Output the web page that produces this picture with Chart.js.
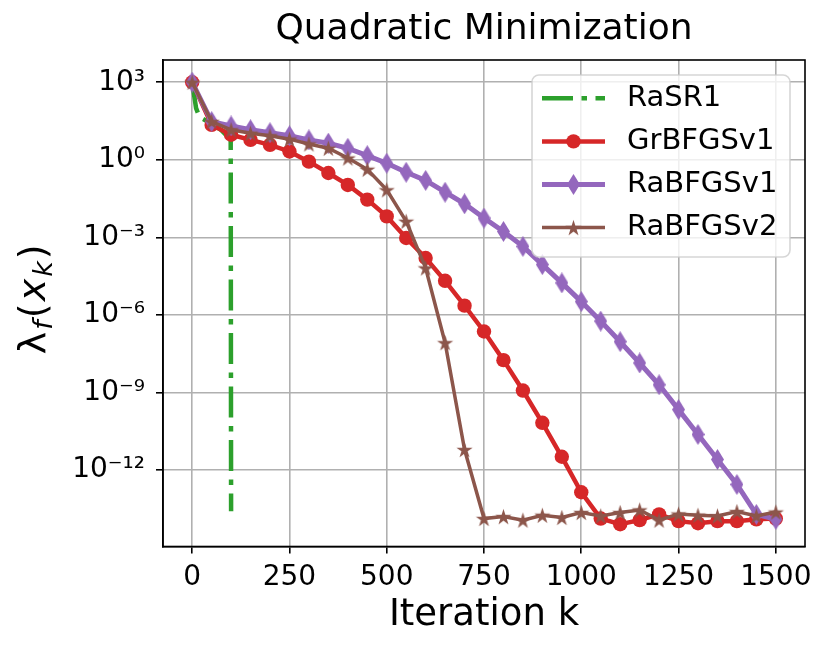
<!DOCTYPE html>
<html>
<head>
<meta charset="utf-8">
<script src="https://cdn.jsdelivr.net/npm/chart.js@4.4.1/dist/chart.umd.min.js"></script>
<style>
  html, body { margin: 0; padding: 0; background: #fff; }
  canvas { display: block; }
</style>
</head>
<body>
<canvas id="convChart" width="831" height="655"></canvas>
<script>
// iteration counter (markers every 50 iterations)
const iterations = [0, 50, 100, 150, 200, 250, 300, 350, 400, 450, 500, 550, 600, 650, 700, 750,
                    800, 850, 900, 950, 1000, 1050, 1100, 1150, 1200, 1250, 1300, 1350, 1400, 1450, 1500];
// RaSR1 stops after ~100 iterations
const rasr1Iter = [0, 5, 10, 15, 25, 50, 75, 99, 100];
const rasr1Vals = [1e3, 316, 100, 63, 40, 25, 14, 6, 2.6e-14];
const grbfgsv1Vals = [1e3, 22.4, 9.3, 5.9, 3.8, 2.1, 0.85, 0.31, 0.107, 0.029, 6.5e-3, 9.5e-4, 1.6e-4, 2.1e-5, 2.3e-6, 2.3e-7,
                      1.8e-8, 1.2e-9, 6.8e-11, 3.3e-12, 1.4e-13, 1.35e-14, 8.1e-15, 1.17e-14, 1.95e-14, 1.07e-14, 8.9e-15, 1.07e-14, 1.07e-14, 1.26e-14, 1.35e-14];
const rabfgsv1Vals = [1e3, 30, 20.4, 14.5, 11.2, 8.5, 5.9, 4.4, 2.8, 1.45, 0.74, 0.33, 0.16, 0.056, 0.020, 5.6e-3,
                      1.7e-3, 4.5e-4, 8.9e-5, 1.74e-5, 3.3e-6, 5.8e-7, 9.3e-8, 1.4e-8, 2.0e-9, 2.2e-10, 2.4e-11, 2.6e-12, 2.8e-13, 1.95e-14, 1.26e-14];
const rabfgsv2Vals = [1e3, 30, 14.5, 10.7, 8.5, 6.3, 4.1, 2.8, 1.17, 0.43, 0.069, 4.2e-3, 6.6e-5, 8.5e-8, 6.3e-12, 1.35e-14,
                      1.6e-14, 1.17e-14, 1.8e-14, 1.48e-14, 2.3e-14, 1.7e-14, 2.3e-14, 2.9e-14, 1.17e-14, 2.0e-14, 1.8e-14, 1.7e-14, 2.5e-14, 1.7e-14, 2.4e-14];
const seriesNames = ['RaSR1', 'GrBFGSv1', 'RaBFGSv1', 'RaBFGSv2'];
const xTicks = [0, 250, 500, 750, 1000, 1250, 1500];
const yTicks = [1e-12, 1e-9, 1e-6, 1e-3, 1e0, 1e3];

const FONT = 'DejaVu Sans';
const sup = { '-': '\u207B', '0': '\u2070', '1': '\u00B9', '2': '\u00B2', '3': '\u00B3', '4': '\u2074',
              '5': '\u2075', '6': '\u2076', '7': '\u2077', '8': '\u2078', '9': '\u2079' };

function toPoints(xs, ys) {
  return xs.map((x, i) => ({ x: x, y: ys[i] }));
}

// matplotlib-like markers
function thinDiamond(color, w, h) {
  const c = document.createElement('canvas');
  c.width = w; c.height = h;
  const g = c.getContext('2d');
  g.fillStyle = color;
  g.beginPath();
  g.moveTo(w / 2, 0); g.lineTo(w, h / 2); g.lineTo(w / 2, h); g.lineTo(0, h / 2);
  g.closePath();
  g.fill();
  return c;
}

function starMarker(color, r) {
  const size = Math.ceil(r * 2 + 2);
  const c = document.createElement('canvas');
  c.width = size; c.height = size;
  const g = c.getContext('2d');
  g.fillStyle = color;
  g.beginPath();
  for (let i = 0; i < 10; i++) {
    const rad = i % 2 === 0 ? r : r * 0.382;
    const a = -Math.PI / 2 + i * Math.PI / 5;
    const px = size / 2 + rad * Math.cos(a), py = size / 2 + 0.8 + rad * Math.sin(a);
    if (i === 0) g.moveTo(px, py); else g.lineTo(px, py);
  }
  g.closePath();
  g.fill();
  return c;
}

const diamondImg = thinDiamond('#9467bd', 13, 21);
const starImg = starMarker('#8c564b', 8.5);

const frame = {
  id: 'frame',
  afterDatasetsDraw(chart) {
    const { ctx, chartArea: a } = chart;
    ctx.save();
    ctx.strokeStyle = '#000';
    ctx.lineWidth = 1.6;
    ctx.strokeRect(a.left, a.top, a.right - a.left, a.bottom - a.top);
    ctx.restore();
  }
};

const legendBox = {
  id: 'legendBox',
  afterDraw(chart) {
    const { ctx, chartArea: a } = chart;
    const w = 258, h = 182;
    const x0 = a.right - 15 - w, y0 = a.top + 15;
    ctx.save();
    ctx.beginPath();
    ctx.roundRect(x0, y0, w, h, 7);
    ctx.fillStyle = 'rgba(255,255,255,0.8)';
    ctx.fill();
    ctx.strokeStyle = 'rgba(204,204,204,0.8)';
    ctx.lineWidth = 1.6;
    ctx.stroke();
    chart.data.datasets.forEach((ds, i) => {
      const y = y0 + 23.3 + i * 43.1;
      const lx = x0 + 10, rx = x0 + 73, mx = (lx + rx) / 2;
      ctx.beginPath();
      ctx.setLineDash(ds.borderDash || []);
      ctx.lineWidth = ds.borderWidth;
      ctx.strokeStyle = ds.borderColor;
      ctx.lineCap = 'butt';
      ctx.moveTo(lx, y); ctx.lineTo(rx, y);
      ctx.stroke();
      ctx.setLineDash([]);
      if (ds.pointStyle instanceof HTMLCanvasElement) {
        ctx.drawImage(ds.pointStyle, mx - ds.pointStyle.width / 2, y - ds.pointStyle.height / 2);
      } else if (ds.pointRadius > 0) {
        ctx.beginPath();
        ctx.arc(mx, y, ds.pointRadius, 0, Math.PI * 2);
        ctx.fillStyle = ds.pointBackgroundColor;
        ctx.fill();
      }
      ctx.fillStyle = '#000';
      ctx.font = '29px "' + FONT + '"';
      ctx.textBaseline = 'middle';
      ctx.textAlign = 'left';
      ctx.fillText(ds.label, x0 + 95, y);
    });
    ctx.restore();
  }
};

// y axis label with subscripts: lambda_f(x_k)
const yLabelParts = [
  ['\u03BB', '38px', 0],
  ['f', 'italic 27px', 7],
  ['(', '38px', 0],
  ['x', 'italic 38px', 0],
  ['k', 'italic 27px', 7],
  [')', '38px', 0]
];
const yLabel = {
  id: 'yLabel',
  afterDraw(chart) {
    const { ctx, chartArea: a } = chart;
    ctx.save();
    let total = 0;
    const widths = yLabelParts.map(p => {
      ctx.font = p[1] + ' "' + FONT + '"';
      const wd = ctx.measureText(p[0]).width + 2;
      total += wd;
      return wd;
    });
    ctx.translate(45, (a.top + a.bottom) / 2 - 5);
    ctx.rotate(-Math.PI / 2);
    ctx.textBaseline = 'alphabetic';
    ctx.textAlign = 'left';
    ctx.fillStyle = '#000';
    let x = -total / 2;
    yLabelParts.forEach((p, i) => {
      ctx.font = p[1] + ' "' + FONT + '"';
      ctx.fillText(p[0], x, p[2]);
      x += widths[i];
    });
    ctx.restore();
  }
};

const ctx = document.getElementById('convChart').getContext('2d');
const chart = new Chart(ctx, {
  type: 'line',
  data: {
    datasets: [
      {
        label: seriesNames[0],
        data: toPoints(rasr1Iter, rasr1Vals),
        borderColor: '#2ca02c',
        borderWidth: 4.5,
        borderDash: [31, 8.5, 5.5, 8.5],
        borderCapStyle: 'butt',
        pointRadius: 0,
        order: 4
      },
      {
        label: seriesNames[1],
        data: toPoints(iterations, grbfgsv1Vals),
        borderColor: '#d62728',
        borderWidth: 4.5,
        pointStyle: 'circle',
        pointRadius: 7.2,
        pointBackgroundColor: '#d62728',
        pointBorderWidth: 0,
        order: 3
      },
      {
        label: seriesNames[2],
        data: toPoints(iterations, rabfgsv1Vals),
        borderColor: '#9467bd',
        borderWidth: 5,
        pointStyle: diamondImg,
        pointRadius: 6,
        order: 2
      },
      {
        label: seriesNames[3],
        data: toPoints(iterations, rabfgsv2Vals),
        borderColor: '#8c564b',
        borderWidth: 3.5,
        pointStyle: starImg,
        pointRadius: 6,
        order: 1
      }
    ]
  },
  options: {
    responsive: false,
    animation: false,
    layout: { padding: { top: 0, right: 26, bottom: 0, left: 0 } },
    elements: { line: { tension: 0 } },
    plugins: {
      legend: { display: false },
      tooltip: { enabled: false },
      title: {
        display: true,
        text: 'Quadratic Minimization',
        fullSize: false,
        color: '#000',
        font: { family: FONT, size: 36, weight: 'normal' },
        padding: { top: 8.3, bottom: 8.5 }
      }
    },
    scales: {
      x: {
        type: 'linear',
        min: -75,
        max: 1575,
        afterBuildTicks: s => { s.ticks = xTicks.map(v => ({ value: v })); },
        afterFit: s => { s.height = 108.5; },
        grid: { color: '#b0b0b0', lineWidth: 1.6, tickColor: '#000', tickWidth: 1.6, tickLength: 7 },
        border: { color: '#000', width: 1.6 },
        ticks: { color: '#000', font: { family: FONT, size: 28 }, padding: 7, maxRotation: 0,
                 callback: v => String(v) },
        title: { display: true, text: 'Iteration k', color: '#000',
                 font: { family: FONT, size: 37 }, padding: { top: 0, bottom: 17.8 } }
      },
      y: {
        type: 'logarithmic',
        min: 1.12e-15,
        max: 7.24e3,
        afterBuildTicks: s => { s.ticks = yTicks.map(v => ({ value: v })); },
        afterFit: s => { s.width = 163; },
        grid: { color: '#b0b0b0', lineWidth: 1.6, tickColor: '#000', tickWidth: 1.6, tickLength: 7 },
        border: { color: '#000', width: 1.6 },
        ticks: {
          color: '#000',
          font: { family: FONT, size: 28 },
          padding: 11,
          callback: v => {
            const e = String(Math.round(Math.log10(v)));
            return '10' + e.split('').map(ch => sup[ch]).join('');
          }
        }
      }
    }
  },
  plugins: [frame, legendBox, yLabel]
});
</script>
</body>
</html>
